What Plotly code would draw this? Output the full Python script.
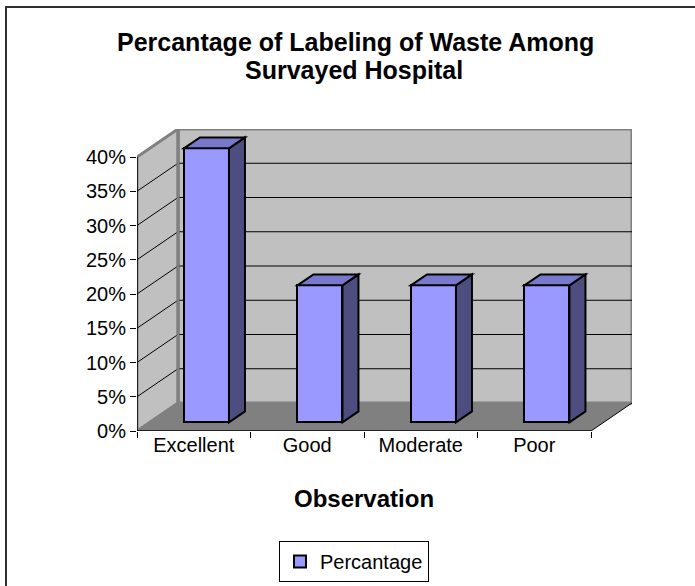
import plotly.graph_objects as go

# ---- data ----
categories = ["Excellent", "Good", "Moderate", "Poor"]
percentages = [0.40, 0.20, 0.20, 0.20]
series_name = "Percantage"
y_ticks = [0, 0.05, 0.10, 0.15, 0.20, 0.25, 0.30, 0.35, 0.40]
title_lines = ["Percantage of Labeling of Waste Among", "Survayed Hospital"]
x_title = "Observation"

# ---- geometry (pixels) ----
W, H = 695, 586
PLOT_LEFT, PLOT_BOTTOM = 137, 431
PX_PER_CAT = 113.5
PX_PER_UNIT = 685.0
DEPTH_DX, DEPTH_DY = 41, 28
Y_MAX = max(y_ticks)

ddx = DEPTH_DX / PX_PER_CAT
ddy = DEPTH_DY / PX_PER_UNIT
x0 = -0.5
x_front_end = x0 + len(categories)
x_range = [x0, x_front_end + ddx]
y_range = [0, Y_MAX + ddy]
plot_w = (x_range[1] - x_range[0]) * PX_PER_CAT
plot_h = (y_range[1] - y_range[0]) * PX_PER_UNIT
m_l = PLOT_LEFT
m_r = W - PLOT_LEFT - plot_w
m_b = H - PLOT_BOTTOM
m_t = H - m_b - plot_h

def px_x(p):
    return (p - PLOT_LEFT) / plot_w

def px_y(p):
    return (PLOT_BOTTOM - p) / plot_h

WALL = "#c0c0c0"
FLOOR = "#808080"
EDGE = "#808080"
FRONT = "#9999ff"
TOP = "#7878cc"
SIDE = "#4d4d80"

shapes = []

def poly(pts, fill, line_color, lw, layer="below"):
    d = "M " + " L ".join(f"{x},{y}" for x, y in pts) + " Z"
    shapes.append(dict(type="path", path=d, xref="x", yref="y", fillcolor=fill,
                       line=dict(color=line_color, width=lw), layer=layer))

def seg(xa, ya, xb, yb, color, lw, layer="below"):
    shapes.append(dict(type="line", x0=xa, y0=ya, x1=xb, y1=yb, xref="x", yref="y",
                       line=dict(color=color, width=lw), layer=layer))

# back wall
poly([(x0 + ddx, ddy), (x_front_end + ddx, ddy), (x_front_end + ddx, Y_MAX + ddy),
      (x0 + ddx, Y_MAX + ddy)], WALL, EDGE, 3)
# left wall
poly([(x0, 0), (x0 + ddx, ddy), (x0 + ddx, Y_MAX + ddy), (x0, Y_MAX)], WALL, EDGE, 3)
# gridlines
for v in y_ticks[1:-1]:
    seg(x0 + ddx, v + ddy, x_front_end + ddx, v + ddy, "#000000", 1)
    seg(x0, v, x0 + ddx, v + ddy, "#000000", 1)
# floor
poly([(x0, 0), (x_front_end, 0), (x_front_end + ddx, ddy), (x0 + ddx, ddy)], FLOOR, FLOOR, 0)
seg(x_front_end, 0, x_front_end + ddx, ddy, "#000000", 1)
seg(x0, 0, x_front_end, 0, "#000000", 1.5)
seg(x0, 0, x0, Y_MAX, "#000000", 1.5)
# repaint back-left edge above floor
seg(x0 + ddx, ddy, x0 + ddx, Y_MAX + ddy, EDGE, 3)

# bars 3D parts
F0, F1 = 0.31, 0.70
BAR_W = 45 / PX_PER_CAT
base = F0 * ddy
dep_x = (F1 - F0) * ddx
dep_y = (F1 - F0) * ddy
for i, v in enumerate(percentages):
    xl = i - BAR_W / 2 + F0 * ddx
    xr = xl + BAR_W
    top = base + v
    poly([(xr, base), (xr, top), (xr + dep_x, top + dep_y), (xr + dep_x, base + dep_y)],
         SIDE, "#000000", 2, layer="above")
    poly([(xl, top), (xr, top), (xr + dep_x, top + dep_y), (xl + dep_x, top + dep_y)],
         TOP, "#000000", 2, layer="above")

# outer chart border
shapes.append(dict(type="rect", xref="paper", yref="paper",
                   x0=px_x(6), x1=px_x(W + 10), y0=px_y(H + 10), y1=px_y(7),
                   line=dict(color="#303030", width=2), fillcolor="rgba(0,0,0,0)", layer="below"))

fig = go.Figure()
fig.add_trace(go.Bar(
    x=categories, y=percentages, base=base, width=BAR_W,
    offset=-BAR_W / 2 + F0 * ddx, name=series_name,
    marker=dict(color=FRONT, line=dict(color="#000000", width=2)),
    showlegend=True,
))

FONT = "Liberation Sans, Arial, sans-serif"
annotations = [
    dict(text=f"<b>{title_lines[0]}</b>", xref="paper", yref="paper",
         x=px_x(355), y=px_y(42), xanchor="center", yanchor="middle",
         showarrow=False, font=dict(size=25, color="#000000", family=FONT)),
    dict(text=f"<b>{title_lines[1]}</b>", xref="paper", yref="paper",
         x=px_x(354), y=px_y(70), xanchor="center", yanchor="middle",
         showarrow=False, font=dict(size=25, color="#000000", family=FONT)),
    dict(text=f"<b>{x_title}</b>", xref="x", yref="paper",
         x=(len(categories) - 1) / 2, y=px_y(498), xanchor="center", yanchor="middle",
         showarrow=False, font=dict(size=24, color="#000000", family=FONT)),
]

fig.update_layout(
    width=W, height=H,
    margin=dict(l=m_l, r=m_r, t=m_t, b=m_b, pad=0, autoexpand=False),
    paper_bgcolor="#ffffff", plot_bgcolor="rgba(0,0,0,0)",
    font=dict(family=FONT, size=20, color="#000000"),
    shapes=shapes, annotations=annotations,
    showlegend=True,
    legend=dict(x=px_x(279), y=px_y(582), xanchor="left", yanchor="bottom",
                bordercolor="#000000", borderwidth=1, bgcolor="#ffffff",
                font=dict(size=20, family=FONT), itemwidth=30,
                tracegroupgap=0),
    bargap=0,
)
fig.update_xaxes(type="category", categoryorder="array", categoryarray=categories,
                 range=x_range, tickson="boundaries", ticks="outside", ticklen=6,
                 tickcolor="#000000", showgrid=False, zeroline=False, showline=False,
                 tickfont=dict(size=20, family=FONT), fixedrange=True)
fig.update_yaxes(range=y_range, tickvals=y_ticks,
                 ticktext=[f"{round(v*100)}%" for v in y_ticks],
                 ticks="outside", ticklen=6, tickcolor="#000000",
                 showgrid=False, zeroline=False, showline=False,
                 tickfont=dict(size=20, family=FONT), fixedrange=True)

fig.write_html("out.html", config={"displayModeBar": False},
               post_script="document.body.style.margin='0';document.body.style.overflow='hidden';")
